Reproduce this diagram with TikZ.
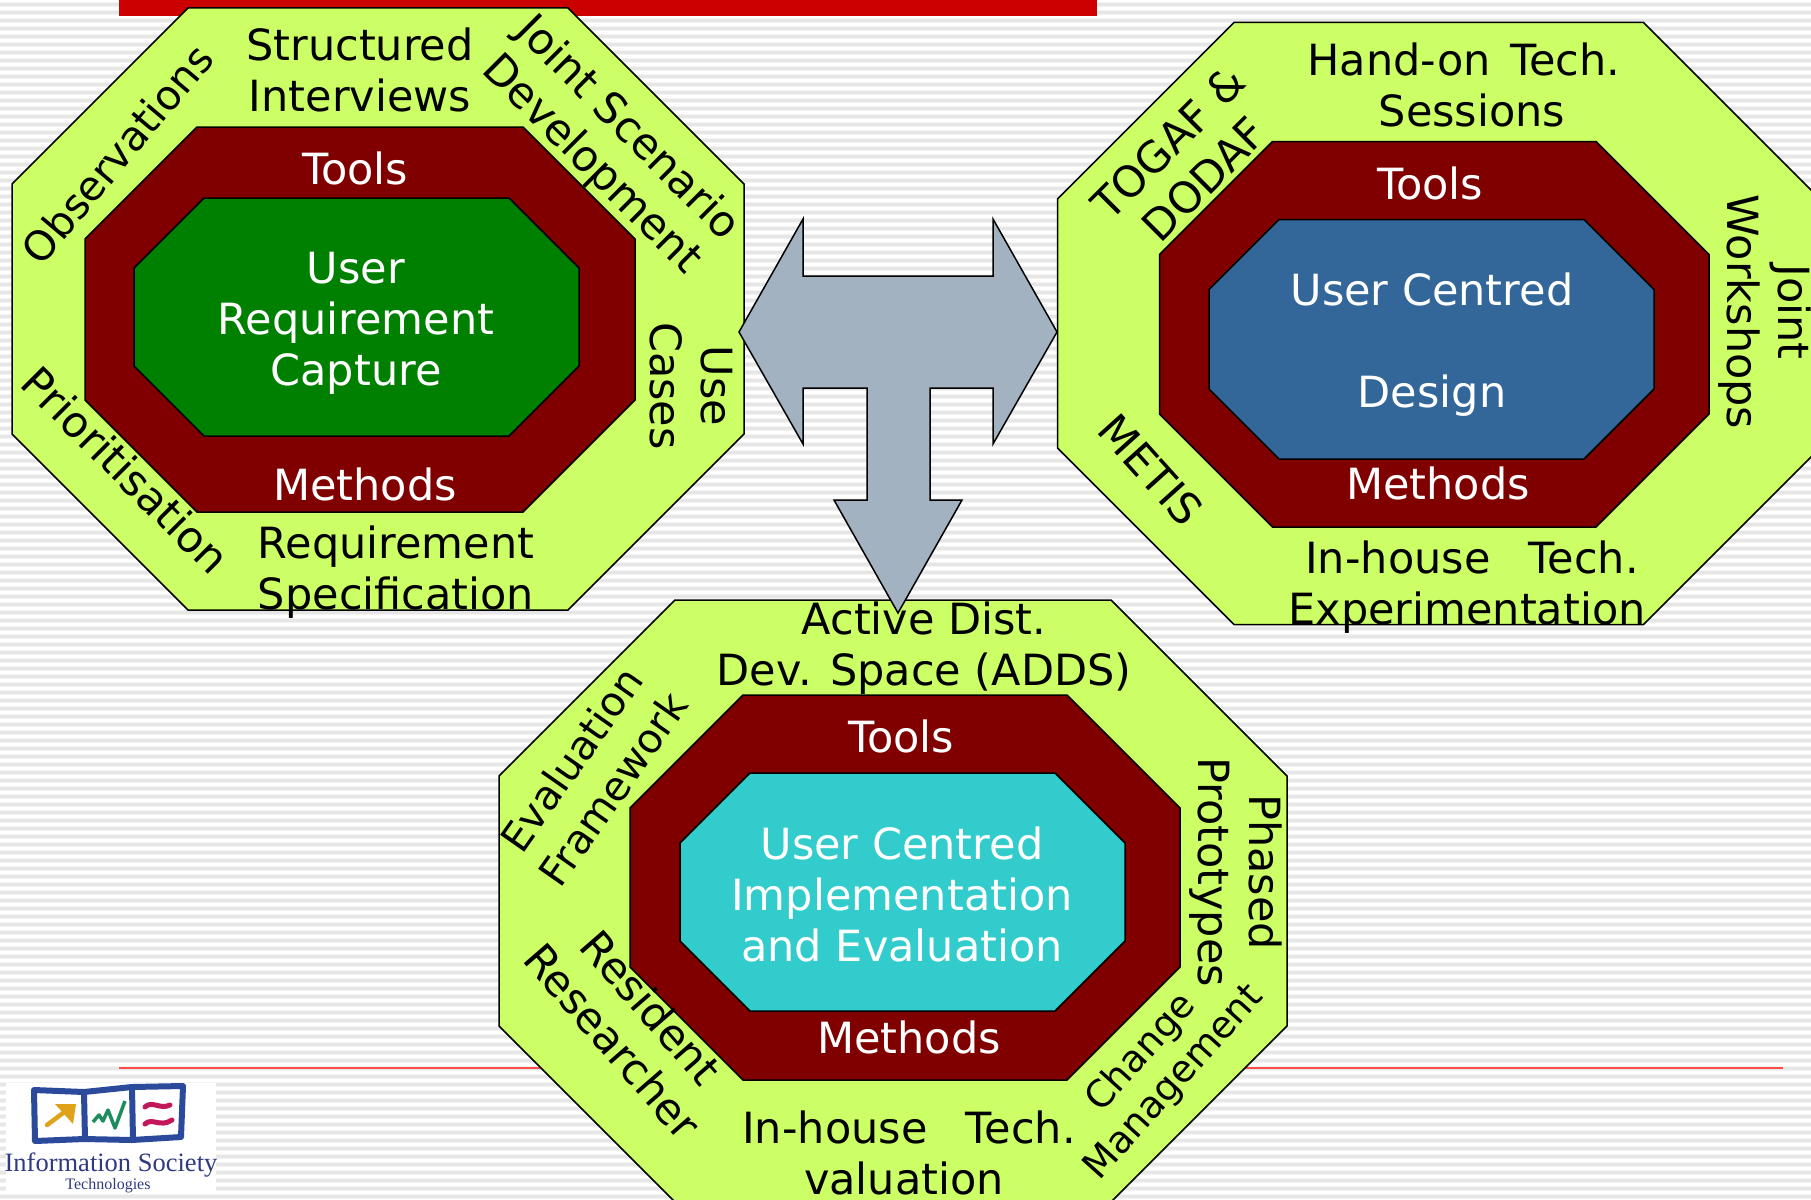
\documentclass[tikz,border=0pt]{standalone}
\usepackage{fontspec}
\setmainfont{DejaVu Sans}
\newfontfamily\logofont{Liberation Serif}
\definecolor{lime}{HTML}{CCFF66}
\definecolor{maroonc}{HTML}{800000}
\definecolor{greenc}{HTML}{008000}
\definecolor{bluec}{HTML}{336699}
\definecolor{cyanc}{HTML}{33CCCC}
\definecolor{redc}{HTML}{CC0000}
\definecolor{arrowc}{HTML}{A3B2C1}
\definecolor{stripec}{HTML}{E6E6E6}
\definecolor{stripel}{HTML}{F3F3F3}
\definecolor{logob}{HTML}{2B4A9B}
\definecolor{logot}{HTML}{2F3A80}
\definecolor{logoo}{HTML}{E0A21B}
\definecolor{logog}{HTML}{1E8C5E}
\definecolor{logor}{HTML}{C2185B}
\tikzset{
  lbl/.style={inner sep=0pt,align=center,font=\fontsize{43}{51}\selectfont},
  tb/.style={lbl,text=black},
  tw/.style={lbl,text=white},
  oct/.style={draw=black,line width=1.5pt,line join=miter},
}
\newcommand{\octa}[6]{%
  \draw[oct,fill=#6] ({#1+#5},#2) -- ({#3-#5},#2) -- (#3,{#2+#5}) -- (#3,{#4-#5}) --
    ({#3-#5},#4) -- ({#1+#5},#4) -- (#1,{#4-#5}) -- (#1,{#2+#5}) -- cycle;}
\begin{document}
\begin{tikzpicture}[x=1pt,y=-1pt]
\useasboundingbox (0,0) rectangle (1811,1199);
\clip (0,0) rectangle (1811,1199);
\fill[white] (0,0) rectangle (1811,1199);
\foreach \s in {0,...,149} {\fill[stripel] (0,{2.2+8*\s}) rectangle (1811,{7.2+8*\s});
  \fill[stripec] (0,{3.4+8*\s}) rectangle (1811,{6+8*\s});}
% title bar and rule
\fill[redc] (119,0) rectangle (1097,16);
\draw[color=red!70!white,line width=1.5pt] (119,1068) -- (1783,1068);
% logo
\fill[white] (6,1083) rectangle (216,1193);
\draw[logob,line width=6pt,line join=round] (34,1090) -- (84,1092) -- (132,1087) -- (183,1086) -- (181,1137) -- (132,1140) -- (84,1139) -- (35,1141) -- cycle;
\draw[logob,line width=6pt] (84,1092) -- (85,1139) (132,1087) -- (133,1140);
\draw[color=logoo,line width=4.5pt,line cap=round] (47,1125) -- (71,1107);
\fill[color=logoo] (55,1104) -- (76,1104) -- (73,1124) -- cycle;
\draw[color=logog,line width=3.5pt,line join=round] (93,1122) -- (99,1115) -- (103,1121) -- (108,1110) -- (115,1128) -- (125,1101);
\draw[color=logor,line width=5pt,line cap=round] (145,1107) .. controls (152,1100) and (160,1110) .. (170,1105);
\draw[color=logor,line width=5pt,line cap=round] (145,1124) .. controls (152,1117) and (160,1128) .. (172,1120);
\node (logoA) [inner sep=0pt,text=logot,font=\logofont\fontsize{26.5}{30}\selectfont] at (111,1165) {Information Society};
\node (logoB) [inner sep=0pt,text=logot,font=\logofont\fontsize{16}{18}\selectfont] at (108,1186) {Technologies};
% octagon 1
\octa{12}{8}{744}{610}{176}{lime}
\octa{85}{127}{635}{512}{112}{maroonc}
\octa{134}{198}{579}{436}{70}{greenc}
\node (a1) [tb] at (360,70) {Structured\\Interviews};
\node (a2) [tb,rotate=50,font=\fontsize{41}{51}\selectfont] at (117,154) {Observations};
\node (a3) [tb,rotate=-45] at (609,147) {Joint Scenario\\Development};
\node (a4) [tb,rotate=-90] at (691,386) {Use\\Cases};
\node (a5) [tb,rotate=-45] at (126,470) {Prioritisation};
\node (a6) [tb] at (396,572) {Requirement\\Specification};
\node (a7) [tw] at (355,168) {Tools};
\node (a8) [tw] at (365,484) {Methods};
\node (a9) [tw] at (356,323) {User\\Requirement\\Capture};
% octagon 2
\octa{1057.5}{22.5}{1820}{624.5}{176.5}{lime}
\octa{1159.5}{141.5}{1709}{527}{113}{maroonc}
\octa{1209}{219.5}{1654}{459}{70}{bluec}
\node (b1) [tb] at (1464,85) {Hand-on\ \hspace{6pt}Tech.\\\hspace{16pt}Sessions};
\node (b2) [tb,rotate=45] at (1186,161) {TOGAF \&\\DODAF};
\node (b3) [tb,rotate=-48] at (1151,470) {METIS};
\node (b4) [tb,rotate=-90] at (1765,312) {Joint\\Workshops};
\node (b5) [tb] at (1467,587) {\hspace{10pt}In-house\ \ \hspace{11pt}Tech.\\Experimentation};
\node (b6) [tw] at (1430,183) {Tools};
\node (b7) [tw] at (1438,483) {Methods};
\node (b8) [tw] at (1432,345) {User Centred\\[51pt]Design};
% octagon 3
\octa{499}{600}{1287}{1202}{176}{lime}
\octa{630}{695}{1180}{1080}{113}{maroonc}
\octa{680}{773}{1125}{1011}{70}{cyanc}
\node (c1) [tb] at (924,648) {Active Dist.\\Dev. Space (ADDS)};
\node (c2) [tb,rotate=55,font=\fontsize{40.5}{51}\selectfont] at (592,774) {Evaluation\\Framework};
\node (c3) [tb,rotate=-90] at (1236,872) {Phased\\Prototypes};
\node (c4) [tb,rotate=-49] at (632,1024) {Resident\\Researcher};
\node (c5) [tb,rotate=48,font=\fontsize{37.5}{44}\selectfont] at (1158,1068) {Change\\Management};
\node (c6) [tb] at (909,1153) {In-house\ \ \hspace{11pt}Tech.\\\hspace{-10pt}valuation};
\node (c7) [tw] at (901,736) {Tools};
\node (c8) [tw] at (909,1037) {Methods};
\node (c9) [tw] at (902,894) {User Centred\\Implementation\\and Evaluation};
% three-headed arrow
\draw[fill=arrowc,draw=black,line width=1.5pt,line join=miter]
  (739,332) -- (803,219) -- (803,276) -- (993,276) -- (993,219) -- (1057,332) -- (993,444) --
  (993,388) -- (930,388) -- (930,500) -- (962,500) -- (898,613) -- (834,500) -- (867,500) --
  (867,388) -- (803,388) -- (803,444) -- cycle;
\end{tikzpicture}
\end{document}
